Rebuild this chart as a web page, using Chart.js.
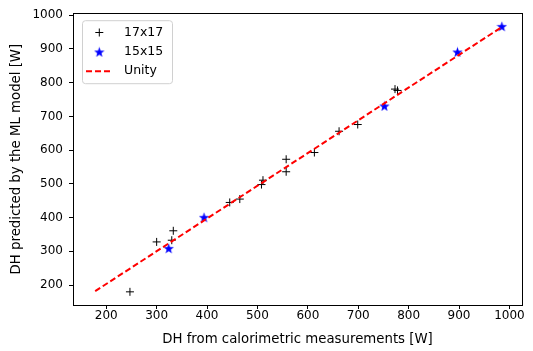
<!DOCTYPE html>
<html>
<head>
<meta charset="utf-8">
<script src="https://cdn.jsdelivr.net/npm/chart.js@4/dist/chart.umd.min.js"></script>
<style>
body { margin: 0; background: #fff; }
</style>
</head>
<body>
<canvas id="dhChart" width="533" height="351"></canvas>
<script>
// values
const x17 = [247, 300, 333, 330, 445, 465, 508, 511, 557, 557, 613, 662, 699, 773, 778];
const y17 = [180, 328, 361, 333, 445, 455, 498, 511, 573, 536, 593, 656, 676, 781, 777];
const x15 = [324, 394, 752, 897, 985];
const y15 = [309, 401, 731, 891, 967];
const unityX = [178, 985];
const unityY = [182, 965];
const xTicks = [200, 300, 400, 500, 600, 700, 800, 900, 1000];
const yTicks = [200, 300, 400, 500, 600, 700, 800, 900, 1000];

const tickFont = { family: 'DejaVu Sans', size: 12 };
const titleFont = { family: 'DejaVu Sans', size: 13.3 };
const legendFont = { family: 'DejaVu Sans', size: 12.5 };

function pts(xs, ys) {
    return xs.map((x, i) => ({ x: x, y: ys[i] }));
}

function makeStar(size, color) {
    const c = document.createElement('canvas');
    c.width = size; c.height = size;
    const g = c.getContext('2d');
    const r = size / 2, ri = r * 0.4;
    g.beginPath();
    for (let k = 0; k < 10; k++) {
        const rad = k % 2 ? ri : r;
        const a = -Math.PI / 2 + k * Math.PI / 5;
        g.lineTo(r + rad * Math.cos(a), r + rad * Math.sin(a) + 0.5);
    }
    g.closePath();
    g.fillStyle = color;
    g.fill();
    return c;
}
const starImg = makeStar(11, '#0000ff');

// box round the plot area
const frame = {
    id: 'frame',
    afterDraw(chart) {
        const { ctx, chartArea: a } = chart;
        ctx.save();
        ctx.strokeStyle = '#000';
        ctx.lineWidth = 1;
        ctx.strokeRect(Math.round(a.left) + 0.5, Math.round(a.top) + 0.5,
            Math.round(a.right - a.left), Math.round(a.bottom - a.top));
        ctx.restore();
    }
};

// matplotlib-like legend inside the axes
const innerLegend = {
    id: 'innerLegend',
    afterDraw(chart) {
        const { ctx, chartArea: a } = chart;
        const bx = a.left + 9, by = a.top + 7, bw = 90, bh = 63;
        ctx.save();
        ctx.beginPath();
        ctx.roundRect(bx + 0.5, by + 0.5, bw, bh, 3);
        ctx.fillStyle = 'rgba(255,255,255,0.8)';
        ctx.fill();
        ctx.strokeStyle = '#d0d0d0';
        ctx.lineWidth = 1;
        ctx.stroke();
        const rows = [12.3, 31.7, 51];
        ctx.font = legendFont.size + 'px "' + legendFont.family + '"';
        ctx.textBaseline = 'middle';
        chart.data.datasets.forEach((ds, i) => {
            const cy = by + rows[i];
            const cx = bx + 17.3;
            if (ds.showLine) {
                ctx.beginPath();
                ctx.setLineDash(ds.borderDash);
                ctx.strokeStyle = ds.borderColor;
                ctx.lineWidth = ds.borderWidth;
                ctx.moveTo(bx + 4, cy);
                ctx.lineTo(bx + 31, cy);
                ctx.stroke();
                ctx.setLineDash([]);
            } else if (ds.pointStyle === 'cross') {
                ctx.beginPath();
                ctx.strokeStyle = ds.borderColor;
                ctx.lineWidth = 1;
                ctx.moveTo(cx - 4, cy); ctx.lineTo(cx + 4, cy);
                ctx.moveTo(cx, cy - 4); ctx.lineTo(cx, cy + 4);
                ctx.stroke();
            } else {
                ctx.drawImage(ds.pointStyle, cx - ds.pointStyle.width / 2, cy - ds.pointStyle.height / 2);
            }
            ctx.fillStyle = '#000';
            ctx.fillText(ds.label, bx + 42, cy);
        });
        ctx.restore();
    }
};

new Chart(document.getElementById('dhChart'), {
    type: 'scatter',
    data: {
        datasets: [{
            label: '17x17',
            data: pts(x17, y17),
            pointStyle: 'cross',
            pointRadius: 4,
            borderColor: '#000',
            borderWidth: 1,
            order: 1
        }, {
            label: '15x15',
            data: pts(x15, y15),
            pointStyle: starImg,
            pointRadius: 5,
            backgroundColor: '#0000ff',
            borderColor: '#0000ff',
            order: 1
        }, {
            label: 'Unity',
            data: pts(unityX, unityY),
            showLine: true,
            pointRadius: 0,
            borderColor: '#ff0000',
            borderWidth: 2,
            borderDash: [6, 3],
            order: 0
        }]
    },
    options: {
        responsive: false,
        animation: false,
        devicePixelRatio: 1,
        events: [],
        layout: { padding: { top: 13, right: 11, left: 0, bottom: 0 } },
        plugins: { legend: { display: false }, tooltip: { enabled: false } },
        scales: {
            x: {
                type: 'linear', min: 134, max: 1025,
                afterBuildTicks: s => { s.ticks = xTicks.map(v => ({ value: v })); },
                afterFit: s => { s.height = 46; },
                grid: { drawOnChartArea: false, drawTicks: true, tickLength: 4, tickColor: '#000' },
                border: { display: false },
                ticks: { color: '#000', font: tickFont, padding: 0, maxRotation: 0, autoSkip: false, callback: v => String(v) },
                title: { display: true, text: 'DH from calorimetric measurements [W]', color: '#000', font: titleFont, padding: { top: 2, bottom: 3 } }
            },
            y: {
                type: 'linear', min: 141, max: 1006,
                afterBuildTicks: s => { s.ticks = yTicks.map(v => ({ value: v })); },
                afterFit: s => { s.width = 73; },
                grid: { drawOnChartArea: false, drawTicks: true, tickLength: 4, tickColor: '#000' },
                border: { display: false },
                ticks: { color: '#000', font: tickFont, padding: 6, autoSkip: false, callback: v => String(v) },
                title: { display: true, text: 'DH predicted by the ML model [W]', color: '#000', font: titleFont, padding: { top: 9, bottom: 4 } }
            }
        }
    },
    plugins: [frame, innerLegend]
});
</script>
</body>
</html>
